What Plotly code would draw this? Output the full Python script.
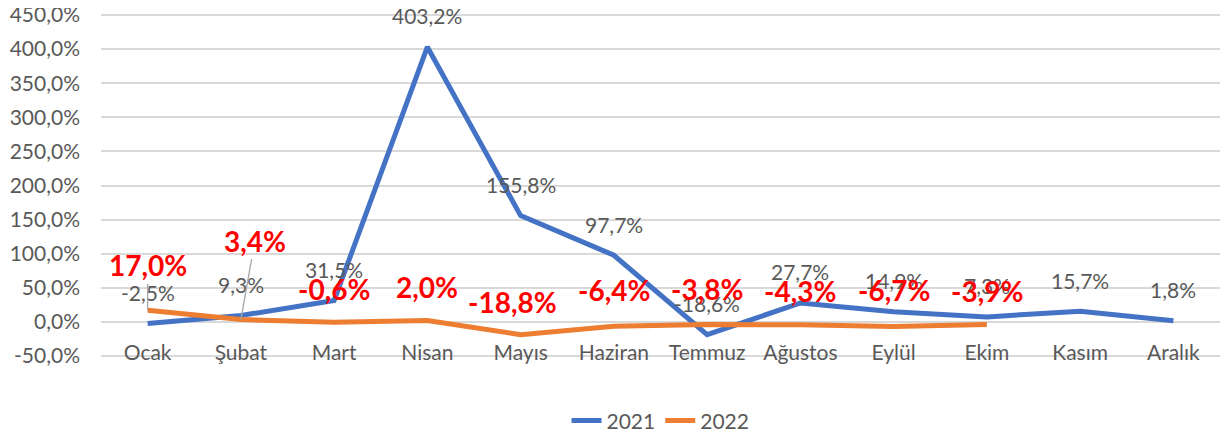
import plotly.graph_objects as go

months = ["Ocak", "Şubat", "Mart", "Nisan", "Mayıs", "Haziran", "Temmuz",
          "Ağustos", "Eylül", "Ekim", "Kasım", "Aralık"]
y2021 = [-2.5, 9.3, 31.5, 403.2, 155.8, 97.7, -18.6, 27.7, 14.9, 7.3, 15.7, 1.8]
y2022 = [17.0, 3.4, -0.6, 2.0, -18.8, -6.4, -3.8, -4.3, -6.7, -3.9]
y_ticks = [-50, 0, 50, 100, 150, 200, 250, 300, 350, 400, 450]

# label offsets (pixels) for the 2022 data labels (dx, dy)
off2022 = [(0, -45), (14, -79), (0, -33), (0, -34), (-8, -33), (0, -36),
           (0, -35), (0, -34), (0, -36), (0, -34)]

FONT = "Lato"
BLUE = "#4472C4"
ORANGE = "#ED7D31"
GREY = "#595959"

def fmt(v):
    return f"{v:.1f}".replace(".", ",") + "%"

fig = go.Figure()
fig.add_trace(go.Scatter(x=months, y=y2021, mode="lines", name="2021",
                         line=dict(color=BLUE, width=5)))
fig.add_trace(go.Scatter(x=months[:len(y2022)], y=y2022, mode="lines", name="2022",
                         line=dict(color=ORANGE, width=5)))

ann = []
for m, v in zip(months, y2021):
    ann.append(dict(x=m, y=v, xref="x", yref="y", text=fmt(v), showarrow=False,
                    yshift=31, font=dict(family=FONT, size=21, color=GREY)))
for i, (m, v) in enumerate(zip(months, y2022)):
    dx, dy = off2022[i]
    txt = "<b>" + fmt(v) + "</b>"
    f = dict(family=FONT, size=28, color="#FF0000")
    if i < 2:
        ann.append(dict(x=m, y=v, xref="x", yref="y", text=txt, showarrow=True,
                        arrowhead=0, arrowwidth=1.3, arrowcolor="#A6A6A6",
                        ax=dx, ay=dy, standoff=0, font=f))
    else:
        ann.append(dict(x=m, y=v, xref="x", yref="y", text=txt,
                        showarrow=False, xshift=dx, yshift=-dy, font=f))

# page body has an 8px margin, so the figure is drawn 8px smaller
fig.update_layout(
    width=1224, height=430,
    margin=dict(l=93, r=12, t=6, b=81, autoexpand=False),
    paper_bgcolor="white", plot_bgcolor="white",
    showlegend=True,
    legend=dict(orientation="h", x=0.5, xanchor="center", y=-0.186, yanchor="middle",
                font=dict(family=FONT, size=21, color=GREY)),
    annotations=ann,
    xaxis=dict(range=[-0.5, 11.5], showgrid=False, zeroline=False, showline=False,
               automargin=False,
               tickfont=dict(family=FONT, size=21, color=GREY),
               ticklabelstandoff=-19),
    yaxis=dict(range=[-51.5, 451.5], tickvals=y_ticks, ticktext=[fmt(t) for t in y_ticks],
               showgrid=True, gridcolor="#D9D9D9", gridwidth=1.5, zeroline=False,
               showline=False, ticklabelstandoff=20, automargin=False,
               ticklabeloverflow="allow",
               tickfont=dict(family=FONT, size=21, color=GREY)),
)

fig.write_html("out.html")
